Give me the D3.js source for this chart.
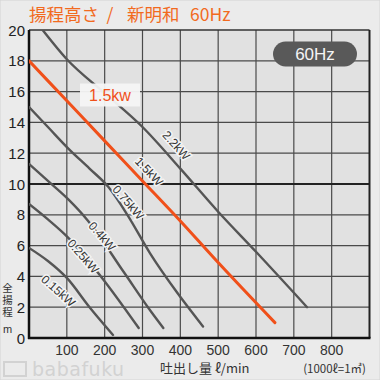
<!DOCTYPE html>
<html>
<head>
<meta charset="utf-8">
<script src="https://cdn.jsdelivr.net/npm/d3@7"></script>
<style>
  body { margin: 0; background: #ebebeb; }
  #chart { width: 380px; height: 380px; }
</style>
</head>
<body>
<div id="chart"></div>
<script>
// Pump head curves (flow l/min, head m)
const curve22 = [[36, 20], [100, 18.1], [200, 15.9], [300, 13.7], [400, 11.0], [500, 8.2], [600, 5.6], [735, 2.0]];
const curve15 = [[0, 18], [100, 15.4], [200, 12.8], [300, 10.2], [400, 7.6], [500, 4.9], [650, 1.0]];
const curve075 = [[0, 15], [50, 13.7], [104, 12.3], [160, 11.0], [210, 9.8], [260, 8.0], [320, 5.5], [390, 3.0], [460, 0.75]];
const curve04 = [[0, 11.3], [50, 10.2], [104, 9.0], [153, 7.7], [250, 4.3], [320, 1.8], [355, 0.65]];
const curve025 = [[0, 8.7], [50, 7.7], [100, 6.6], [190, 4.0], [290, 0.65]];
const curve015 = [[0, 5.85], [50, 5.0], [100, 3.9], [160, 2.0], [222, 0.2]];

const xTicks = [100, 200, 300, 400, 500, 600, 700, 800];
const yTicks = [0, 2, 4, 6, 8, 10, 12, 14, 16, 18, 20];

// label name, anchor flow, anchor head
const curveLabels = [
  ['2.2kW', 389, 12.5],
  ['1.5kW', 317, 10.8],
  ['0.75kW', 262, 8.8],
  ['0.4kW', 193, 6.6],
  ['0.25kW', 143, 5.3],
  ['0.15kW', 77, 3.05]
];
const labelCurves = [curve22, curve15, curve075, curve04, curve025, curve015];

const W = 380, H = 380;
const font = '"Liberation Sans", Arial, sans-serif';
const jp = '"Noto Sans CJK JP", sans-serif';

const x = d3.scaleLinear().domain([0, 900]).range([29, 369.5]);
const y = d3.scaleLinear().domain([0, 20]).range([338, 30]);

const svg = d3.select('#chart').append('svg')
  .attr('width', W).attr('height', H);

svg.append('rect').attr('width', W).attr('height', H)
  .attr('fill', '#ebebeb').attr('stroke', '#d4d4d4');

// plot background
svg.append('rect')
  .attr('x', x(0)).attr('y', y(20))
  .attr('width', x(900) - x(0)).attr('height', y(0) - y(20))
  .attr('fill', '#e1e1e1');

svg.append('clipPath').attr('id', 'plotclip').append('rect')
  .attr('x', x(0)).attr('y', y(20))
  .attr('width', x(900) - x(0)).attr('height', y(0) - y(20));

// grid
const grid = svg.append('g');
xTicks.forEach(t => {
  grid.append('line')
    .attr('x1', x(t)).attr('x2', x(t)).attr('y1', y(0)).attr('y2', y(20))
    .attr('stroke', '#4a4a4a').attr('stroke-width', 1.2);
});
yTicks.slice(1, -1).forEach(t => {
  grid.append('line')
    .attr('x1', x(0)).attr('x2', x(900)).attr('y1', y(t)).attr('y2', y(t))
    .attr('stroke', t === 10 ? '#222' : '#4a4a4a')
    .attr('stroke-width', t === 10 ? 2 : 1.2);
});

// frame
svg.append('line').attr('x1', x(0)).attr('x2', x(900)).attr('y1', y(20)).attr('y2', y(20))
  .attr('stroke', '#333').attr('stroke-width', 1.5);
svg.append('line').attr('x1', x(900)).attr('x2', x(900)).attr('y1', y(20)).attr('y2', y(0))
  .attr('stroke', '#222').attr('stroke-width', 2);
svg.append('line').attr('x1', x(0)).attr('x2', x(0)).attr('y1', y(20)).attr('y2', y(0) + 1)
  .attr('stroke', '#111').attr('stroke-width', 2.5);
svg.append('line').attr('x1', x(0) - 1).attr('x2', x(900) + 1).attr('y1', y(0)).attr('y2', y(0))
  .attr('stroke', '#111').attr('stroke-width', 2.5);

// curves
const line = d3.line()
  .x(d => x(d[0])).y(d => y(d[1]))
  .curve(d3.curveMonotoneX);

const curves = svg.append('g').attr('clip-path', 'url(#plotclip)');
[curve22, curve075, curve04, curve025, curve015].forEach(c => {
  curves.append('path').attr('d', line(c))
    .attr('fill', 'none').attr('stroke', '#555')
    .attr('stroke-width', 2.4).attr('stroke-linecap', 'round');
});
curves.append('path').attr('d', line(curve15))
  .attr('fill', 'none').attr('stroke', '#f0501a')
  .attr('stroke-width', 3).attr('stroke-linecap', 'round');

// local slope angle of a curve at flow fx, in screen degrees
function slopeAngle(c, fx) {
  let i = 1;
  while (i < c.length - 1 && c[i][0] < fx) i++;
  const dx = x(c[i][0]) - x(c[i - 1][0]);
  const dy = y(c[i][1]) - y(c[i - 1][1]);
  return Math.min(Math.atan2(dy, dx) * 180 / Math.PI, 49);
}

// curve labels, rotated along the line
curveLabels.forEach(([name, fx, fy], i) => {
  const ang = slopeAngle(labelCurves[i], fx);
  svg.append('text')
    .attr('transform', `translate(${x(fx)},${y(fy)}) rotate(${ang})`)
    .attr('text-anchor', 'middle')
    .attr('dominant-baseline', 'central')
    .attr('font-family', font).attr('font-size', 12)
    .attr('fill', '#333')
    .attr('stroke', '#f4f4f4').attr('stroke-width', 3)
    .attr('paint-order', 'stroke')
    .text(name);
});

// y tick labels
yTicks.forEach(t => {
  svg.append('text')
    .attr('x', 25).attr('y', y(t))
    .attr('text-anchor', 'end').attr('dominant-baseline', 'central')
    .attr('font-family', font).attr('font-size', 15)
    .attr('fill', '#222').text(t);
});

// x tick labels
xTicks.forEach(t => {
  svg.append('text')
    .attr('x', x(t)).attr('y', 355)
    .attr('text-anchor', 'middle')
    .attr('font-family', font).attr('font-size', 14)
    .attr('fill', '#333').text(t);
});

// axis titles
svg.append('text').attr('x', 160).attr('y', 373)
  .attr('font-family', jp).attr('font-size', 13).attr('fill', '#333')
  .text('吐出し量 ℓ/min');
svg.append('text').attr('x', 366).attr('y', 373)
  .attr('text-anchor', 'end')
  .attr('font-family', jp).attr('font-size', 11.5).attr('fill', '#333')
  .text('(1000ℓ=1㎥)');

// vertical y title
svg.append('text').attr('x', 7.5).attr('y', 283)
  .attr('writing-mode', 'tb').attr('glyph-orientation-vertical', 0)
  .attr('letter-spacing', 1.5)
  .attr('font-family', jp).attr('font-size', 10.5).attr('fill', '#333')
  .text('全揚程');
svg.append('text').attr('x', 7.5).attr('y', 329)
  .attr('text-anchor', 'middle').attr('dominant-baseline', 'central')
  .attr('font-family', font).attr('font-size', 11).attr('fill', '#333')
  .text('m');

// title
const title = svg.append('g')
  .attr('font-family', jp).attr('font-size', 17.5).attr('fill', '#f26a1e');
title.append('text').attr('x', 29).attr('y', 21).text('揚程高さ');
title.append('text').attr('x', 110).attr('y', 21).attr('text-anchor', 'middle').text('/');
title.append('text').attr('x', 127).attr('y', 21).text('新明和');
title.append('text').attr('x', 190).attr('y', 21).text('60Hz');

// 60Hz badge
svg.append('rect').attr('x', 273).attr('y', 41.5)
  .attr('width', 84).attr('height', 25).attr('rx', 12.5)
  .attr('fill', '#595959');
svg.append('text').attr('x', 315).attr('y', 54.5)
  .attr('text-anchor', 'middle').attr('dominant-baseline', 'central')
  .attr('font-family', font).attr('font-size', 17).attr('fill', '#f4f4f4')
  .text('60Hz');

// orange 1.5kw label box
svg.append('rect').attr('x', 80).attr('y', 83.5)
  .attr('width', 60).attr('height', 23)
  .attr('fill', '#f4f4f4').attr('opacity', 0.95);
svg.append('text').attr('x', 110).attr('y', 95.5)
  .attr('text-anchor', 'middle').attr('dominant-baseline', 'central')
  .attr('font-family', font).attr('font-size', 16).attr('fill', '#f0501a')
  .text('1.5kw');

// watermark
svg.append('rect').attr('x', 4).attr('y', 362).attr('width', 22).attr('height', 14)
  .attr('fill', 'none').attr('stroke', '#d2d2d2').attr('stroke-width', 2);
svg.append('text').attr('x', 32).attr('y', 376)
  .attr('font-family', '"DejaVu Sans", sans-serif').attr('font-size', 19)
  .attr('fill', '#d2d2d2').attr('letter-spacing', 0.5)
  .text('babafuku');
</script>
</body>
</html>
